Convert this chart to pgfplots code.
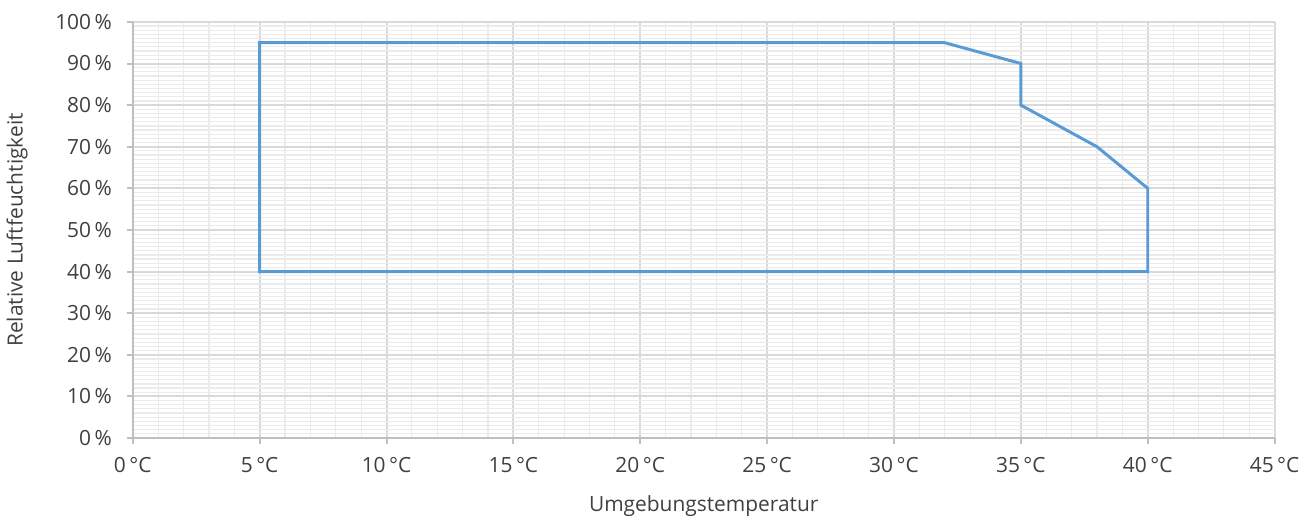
\documentclass[border=0pt]{standalone}
\usepackage{fontspec}
\setmainfont{Open Sans}
\usepackage{pgfplots}
\pgfplotsset{compat=1.18}
\definecolor{linie}{HTML}{5B9BD5}
\definecolor{gitter}{HTML}{D9D9D9}
\definecolor{feingitter}{HTML}{EBEBEB}
\definecolor{achse}{HTML}{BFBFBF}
\definecolor{schrift}{HTML}{404040}
\begin{document}
\begin{tikzpicture}
\begin{axis}[
    scale only axis,
    width=573.5pt, height=209pt,
    xmin=0, xmax=45, ymin=0, ymax=100,
    xtick={0,5,...,45}, ytick={0,10,...,100},
    minor x tick num=4, minor y tick num=9,
    grid=both,
    major grid style={gitter, line width=1pt},
    minor grid style={feingitter, line width=0.6pt},
    axis x line*=bottom, axis y line*=left,
    axis line style={achse, line width=1pt},
    tick style={achse, line width=1pt},
    major tick length=3pt, minor tick length=0pt,
    tick align=outside,
    clip=false,
    /pgf/number format/assume math mode=true,
    xticklabel={\pgfmathprintnumber{\tick}\,°C},
    yticklabel={\pgfmathprintnumber{\tick}\,\%},
    ticklabel style={font=\fontsize{10.5}{12}\selectfont, text=schrift},
    xticklabel style={yshift=-3pt},
    yticklabel style={xshift=-4pt},
    xlabel={Umgebungstemperatur},
    ylabel={Relative Luftfeuchtigkeit},
    label style={font=\fontsize{10.5}{12}\selectfont, text=schrift},
    xlabel style={yshift=-5pt},
    ylabel style={yshift=7pt},
]
\addplot[linie, line width=1.5pt, line join=miter] coordinates {
    (5,40) (5,95) (32,95) (35,90) (35,80) (38,70) (40,60) (40,40) (5,40)
} -- cycle;
\end{axis}
\path ([yshift=11pt]current axis.north);
\end{tikzpicture}
\end{document}
